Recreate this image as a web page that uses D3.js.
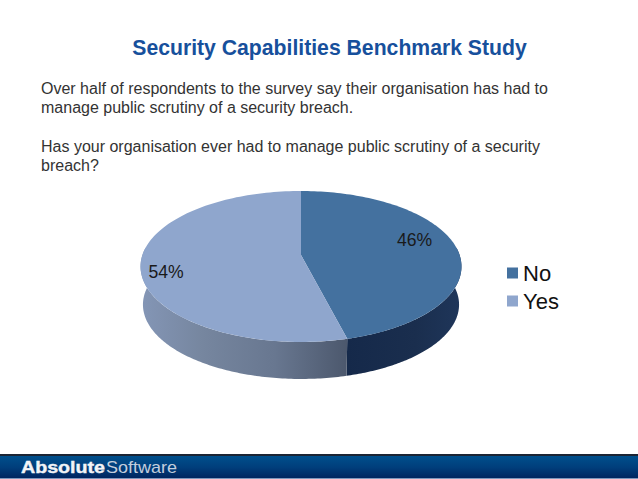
<!DOCTYPE html>
<html><head><meta charset="utf-8">
<script src="https://cdn.jsdelivr.net/npm/d3@7"></script>
<style>html,body{margin:0;background:#fff}svg{display:block}text{font-family:"Liberation Sans",Arial,sans-serif}</style>
</head><body><svg id="c" width="638" height="479"></svg>
<script>
const categories = ["No","Yes"];
const values = [46,54];
const labels = ["46%","54%"];
const titleText = "Security Capabilities Benchmark Study";
const bodyLines = [
 "Over half of respondents to the survey say their organisation has had to",
 "manage public scrutiny of a security breach.",
 "",
 "Has your organisation ever had to manage public scrutiny of a security",
 "breach?"];

const svg = d3.select("#c");
const defs = svg.append("defs");
function grad(id, stops, x2, y2){
  const g = defs.append("linearGradient").attr("id",id).attr("x1",0).attr("y1",0).attr("x2",x2).attr("y2",y2);
  stops.forEach(s=>g.append("stop").attr("offset",s[0]).attr("stop-color",s[1]));
}
grad("sideYes",[[0,"#8496b6"],[0.3,"#76869f"],[0.65,"#687790"],[1,"#4c586d"]],1,0);
grad("sideNo",[[0,"#15294a"],[0.6,"#1a2e4e"],[1,"#1f365a"]],1,0);
grad("band",[[0,"#004f8c"],[0.5,"#003f7c"],[1,"#002560"]],0,1);

const color = d3.scaleOrdinal().domain(categories).range(["#44719f","#8fa6cd"]);
const pie = d3.pie().sort(null).value(d=>d);
const arcs = pie(values);

// perspective projection of the tilted disc
const cx=301, cy=255, persp=-0.152, xs=158.6, ys=73.75;
function proj(a, scale, dy){
  const u=Math.sin(a), v=-Math.cos(a), w=1+persp*v;
  return [cx+scale*xs*u/w, cy+dy+scale*ys*v/w];
}
const line = d3.line();
const steps = a=>d3.range(0,121).map(i=>a[0]+(a[1]-a[0])*i/120);
const depth=38.3, bottomScale=0.985, rad=Math.PI/180;

// side wall
const sideRange=[[Math.PI/2-6*rad, arcs[0].endAngle],[arcs[0].endAngle, 3*Math.PI/2+6*rad]];
svg.selectAll("path.side").data(sideRange).join("path").attr("class","side")
  .attr("fill",(d,i)=>i==0?"url(#sideNo)":"url(#sideYes)")
  .attr("d",d=>{
    const s=steps(d);
    return line(s.map(a=>proj(a,1,0)).concat(s.slice().reverse().map(a=>proj(a,bottomScale,depth))))+"Z";
  });

// top face
svg.selectAll("path.top").data(arcs).join("path").attr("class","top")
  .attr("fill",(d,i)=>color(categories[i]))
  .attr("d",d=>line([[cx,cy]].concat(steps([d.startAngle,d.endAngle]).map(a=>proj(a,1,0))))+"Z");

// data labels
const labelX=[414.5,166], labelY=[245.5,278];
svg.selectAll("text.lab").data(labels).join("text").attr("class","lab")
  .attr("x",(d,i)=>labelX[i]).attr("y",(d,i)=>labelY[i])
  .attr("text-anchor","middle").attr("font-size",17.6).attr("fill","#1a1a1a").text(d=>d);

// title and text
svg.append("text").attr("x",329.5).attr("y",55).attr("text-anchor","middle")
  .attr("font-size",21.2).attr("font-weight","bold").attr("fill","#17509c").text(titleText);
svg.selectAll("text.body").data(bodyLines).join("text").attr("class","body")
  .attr("x",41).attr("y",(d,i)=>94+i*19.3)
  .attr("font-size",16).attr("fill","#333").text(d=>d);

// legend
const legY=[273,301];
svg.selectAll("rect.leg").data(categories).join("rect").attr("class","leg")
  .attr("x",507).attr("y",(d,i)=>legY[i]-5.5).attr("width",11).attr("height",11)
  .attr("fill",d=>color(d));
svg.selectAll("text.leg").data(categories).join("text").attr("class","leg")
  .attr("x",523).attr("y",(d,i)=>legY[i]+8).attr("font-size",22).attr("fill","#111").text(d=>d);

// footer
svg.append("rect").attr("x",0).attr("y",454).attr("width",638).attr("height",2).attr("fill","#1c2433");
svg.append("rect").attr("x",0).attr("y",456).attr("width",638).attr("height",22).attr("fill","url(#band)");
svg.append("rect").attr("x",0).attr("y",478).attr("width",638).attr("height",1).attr("fill","#7d97bd");
svg.append("text").attr("x",21).attr("y",473).attr("font-size",17).attr("font-weight","bold")
  .attr("fill","#f2f4f7").attr("stroke","#f2f4f7").attr("stroke-width",0.4)
  .attr("textLength",84).attr("lengthAdjust","spacingAndGlyphs").text("Absolute");
svg.append("text").attr("x",106).attr("y",473).attr("font-size",17)
  .attr("fill","#c3cedd").attr("textLength",71).attr("lengthAdjust","spacingAndGlyphs").text("Software");
</script></body></html>
